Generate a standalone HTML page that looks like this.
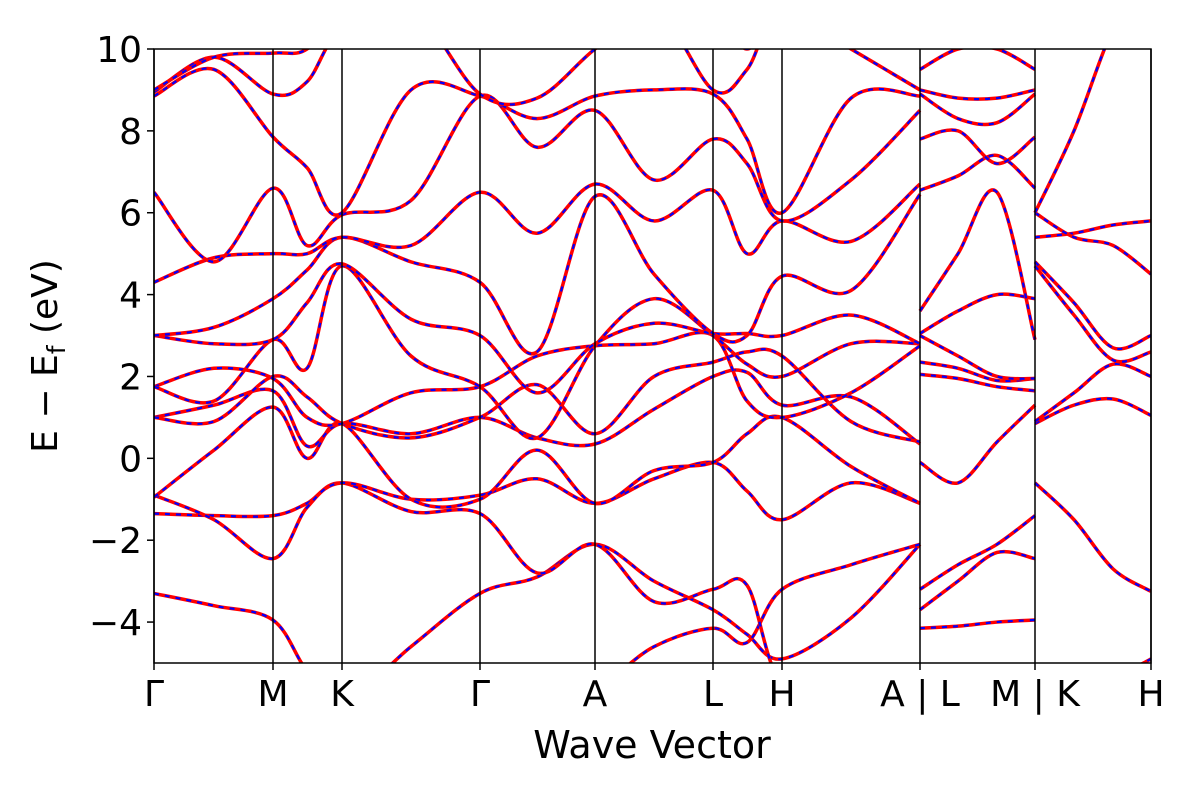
<!DOCTYPE html>
<html><head><meta charset="utf-8"><style>
html,body{margin:0;padding:0;background:#fff;}
svg text{font-family:"DejaVu Sans","Liberation Sans",sans-serif;fill:#000;}
</style></head><body>
<svg id="chart" width="1200" height="800" viewBox="0 0 1200 800" xmlns="http://www.w3.org/2000/svg">
<defs><clipPath id="plotclip"><rect x="154" y="49" width="997" height="614"/></clipPath></defs>
<g id="bands" clip-path="url(#plotclip)"></g>
<g id="vlines"></g>
<rect x="154" y="49" width="997" height="614" fill="none" stroke="#000" stroke-width="1.5"/>
<g id="yaxis"></g>
<g id="xaxis"></g>
<text x="57" y="356" font-size="36" text-anchor="middle" transform="rotate(-90 57 356)">E − E<tspan font-size="25" dy="8">f</tspan><tspan dy="-8"> (eV)</tspan></text>
<text x="652" y="758" font-size="38" text-anchor="middle">Wave Vector</text>
</svg>
<script>
// Data
const kTicks = [0, 1.19, 1.88, 3.26, 4.41, 5.59, 6.28, 7.66, 8.81, 9.97];
const kLabels = ["Γ", "M", "K", "Γ", "A", "L", "H", "A | L", "M | K", "H"];
const yTicks = [-4, -2, 0, 2, 4, 6, 8, 10];
const group1K = [0, 0.6, 1.19, 1.53, 1.88, 2.57, 3.26, 3.83, 4.41, 5.0, 5.59, 5.93, 6.28, 6.97, 7.66];
const group1Bands = [
 [-3.3,-3.6,-3.95,-5.2,-6,-4.6,-3.3,-2.9,-2.1,-3.0,-3.7,-4.3,-4.9,-3.9,-2.1],
 [-5.5,-5.4,-5.5,-5.8,-6,-5.8,-5.5,-5.6,-5.6,-4.6,-4.15,-4.5,-3.2,-2.6,-2.1],
 [-1.35,-1.4,-1.4,-1.1,-0.6,-1.3,-1.35,-2.8,-2.1,-3.5,-3.2,-3.1,-5.5,-5.8,-6],
 [-0.9,-1.5,-2.45,-1.2,-0.6,-1.0,-0.9,-0.5,-1.1,-0.5,-0.1,-0.8,-1.5,-0.6,-1.1],
 [-0.95,0.2,1.25,0.0,0.85,-1.0,-1.0,0.2,-1.1,-0.3,-0.1,0.6,1.0,-0.2,-1.1],
 [1.0,1.3,1.65,0.3,0.85,0.6,1.0,0.5,0.35,1.2,2.0,2.1,1.3,1.5,0.35],
 [1.0,0.9,2.0,1.5,0.85,0.5,1.0,1.8,0.6,2.0,2.35,2.6,2.5,0.9,0.4],
 [1.75,2.2,1.95,1.0,0.85,1.6,1.75,2.5,2.75,2.8,3.0,1.4,1.0,1.6,2.75],
 [1.75,1.4,2.9,2.2,4.7,2.5,1.75,0.5,2.75,3.9,3.0,2.3,2.0,2.8,2.8],
 [3.0,2.8,2.9,3.8,4.75,3.4,3.0,1.6,2.8,3.3,3.05,3.05,3.0,3.5,2.8],
 [3.0,3.2,3.9,4.6,5.4,4.8,4.3,2.6,6.4,4.5,3.05,3.0,4.45,4.1,6.45],
 [4.3,4.9,5.0,5.0,5.4,5.2,6.5,5.5,6.7,5.8,6.55,5.0,5.8,5.3,6.7],
 [6.5,4.8,6.6,5.2,5.95,6.3,8.85,7.6,8.5,6.8,7.8,7.2,5.8,6.8,8.5],
 [8.85,9.5,7.85,7.1,6.0,9.0,8.85,8.3,8.85,9.0,8.9,7.8,6.0,8.8,8.85],
 [8.95,9.8,8.9,9.2,10.5,11,8.9,8.8,10,11,9.0,9.5,11,10,9.0],
 [9.0,9.8,9.9,10,11,11,10.5,11,11,11,11,10,11,11,11]
];
const group2K = [7.66, 8.04, 8.43, 8.81];
const group2Bands = [
 [-4.15,-4.1,-4.0,-3.95],
 [-3.7,-3.0,-2.3,-2.45],
 [-3.2,-2.6,-2.1,-1.4],
 [-0.1,-0.6,0.4,1.3],
 [2.05,1.95,1.75,1.65],
 [2.35,2.2,1.9,1.95],
 [3.0,2.5,2.0,1.95],
 [3.05,3.6,4.0,3.9],
 [3.6,5.0,6.5,2.9],
 [6.55,6.9,7.4,6.6],
 [7.8,8.0,7.2,7.85],
 [8.9,8.3,8.2,8.9],
 [9.0,8.8,8.8,9.0],
 [9.5,10,10,9.5]
];
const group3K = [8.81, 9.2, 9.59, 9.97];
const group3Bands = [
 [-0.6,-1.5,-2.7,-3.25],
 [0.85,1.3,1.45,1.05],
 [0.9,1.6,2.3,2.0],
 [4.7,3.5,2.4,2.6],
 [4.8,3.8,2.7,3.0],
 [5.4,5.5,5.7,5.8],
 [6.0,5.4,5.2,4.5],
 [6.0,8.0,10.5,12],
 [-6,-5.8,-5.4,-4.9]
];

// Axis functions
const X0 = 154, X1 = 1151, Y0 = 663, Y1 = 49, EMIN = -5, EMAX = 10, KMAX = 9.97;
const xs = k => X0 + (k / KMAX) * (X1 - X0);
const ys = e => Y0 - (e - EMIN) / (EMAX - EMIN) * (Y0 - Y1);
const NS = "http://www.w3.org/2000/svg";

function splinePath(ks, es) {
  const p = ks.map((k, i) => [xs(k), ys(es[i])]);
  let d = `M${p[0][0]},${p[0][1]}`;
  for (let i = 0; i < p.length - 1; i++) {
    const p0 = p[i - 1] || p[i], p1 = p[i], p2 = p[i + 1], p3 = p[i + 2] || p[i + 1];
    const c1x = p1[0] + (p2[0] - p0[0]) / 6, c1y = p1[1] + (p2[1] - p0[1]) / 6;
    const c2x = p2[0] - (p3[0] - p1[0]) / 6, c2y = p2[1] - (p3[1] - p1[1]) / 6;
    d += ` C${c1x},${c1y} ${c2x},${c2y} ${p2[0]},${p2[1]}`;
  }
  return d;
}

const bandsG = document.getElementById('bands');
function drawGroup(ks, bands, gname) {
  bands.forEach((b, i) => {
    const d = splinePath(ks, b);
    const r = document.createElementNS(NS, 'path');
    r.setAttribute('d', d);
    r.setAttribute('fill', 'none');
    r.setAttribute('stroke', '#ff0000');
    r.setAttribute('stroke-width', '3.5');
    
    
    bandsG.appendChild(r);
    const bl = document.createElementNS(NS, 'path');
    bl.setAttribute('d', d);
    bl.setAttribute('fill', 'none');
    bl.setAttribute('stroke', '#0000ff');
    bl.setAttribute('stroke-width', '2.2');
    bl.setAttribute('stroke-dasharray', '5 6');
    
    
    bandsG.appendChild(bl);
  });
}
drawGroup(group1K, group1Bands, 'segment1');
drawGroup(group2K, group2Bands, 'segment2');
drawGroup(group3K, group3Bands, 'segment3');

const vG = document.getElementById('vlines');
const xG = document.getElementById('xaxis');
kTicks.forEach((k, i) => {
  const x = xs(k);
  const l = document.createElementNS(NS, 'line');
  l.setAttribute('x1', x); l.setAttribute('x2', x);
  l.setAttribute('y1', Y1); l.setAttribute('y2', Y0 + 7);
  l.setAttribute('stroke', '#000'); l.setAttribute('stroke-width', '1.5');
  
  
  vG.appendChild(l);
  const t = document.createElementNS(NS, 'text');
  t.setAttribute('x', x); t.setAttribute('y', 706);
  t.setAttribute('font-size', '36');
  t.setAttribute('text-anchor', 'middle');
  t.textContent = kLabels[i];
  
  
  xG.appendChild(t);
});

const yG = document.getElementById('yaxis');
yTicks.forEach(v => {
  const y = ys(v);
  const l = document.createElementNS(NS, 'line');
  l.setAttribute('x1', X0 - 7); l.setAttribute('x2', X0);
  l.setAttribute('y1', y); l.setAttribute('y2', y);
  l.setAttribute('stroke', '#000'); l.setAttribute('stroke-width', '1.5');
  
  
  yG.appendChild(l);
  const t = document.createElementNS(NS, 'text');
  t.setAttribute('x', X0 - 12); t.setAttribute('y', y + 13);
  t.setAttribute('font-size', '36');
  t.setAttribute('text-anchor', 'end');
  t.textContent = v < 0 ? '−' + Math.abs(v) : String(v);
  
  
  yG.appendChild(t);
});
</script>
</body></html>
